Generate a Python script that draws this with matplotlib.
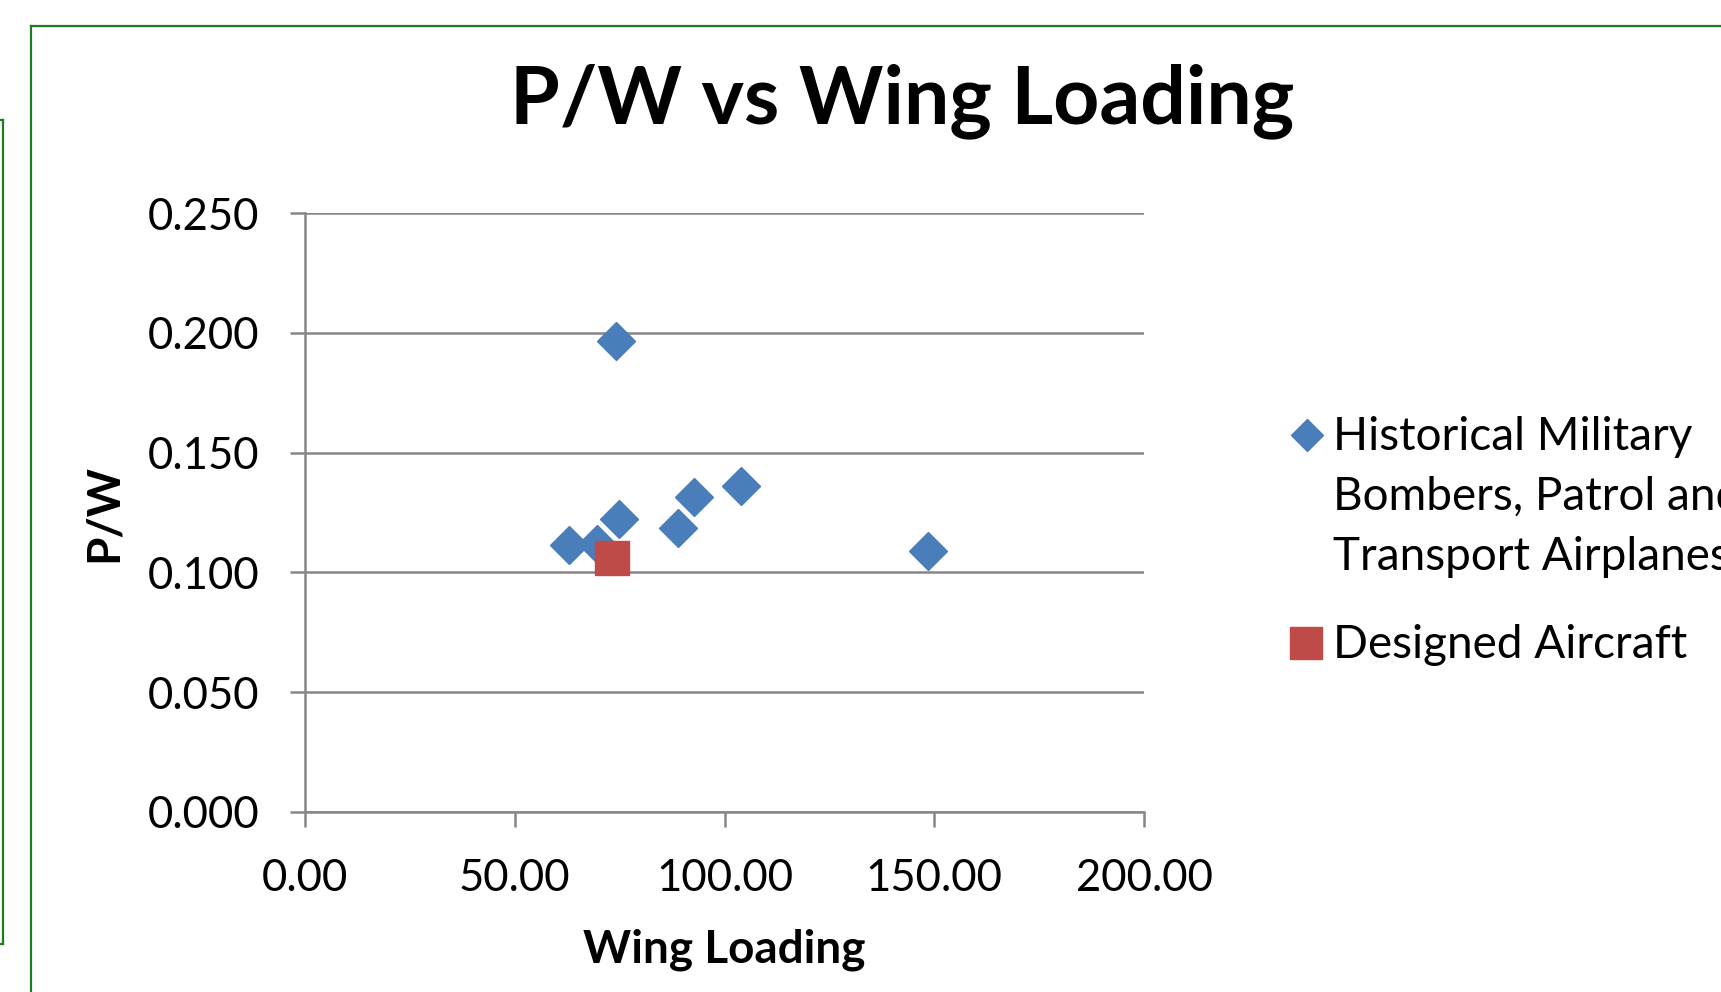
import numpy as np
import matplotlib
matplotlib.use("Agg")
import matplotlib.pyplot as plt
from matplotlib.lines import Line2D

plt.rcParams['font.family'] = ['Lato', 'DejaVu Sans']

# data
hist_wl = [74.1, 62.9, 69.7, 74.8, 89.0, 92.8, 103.9, 148.4]
hist_pw = [0.1966, 0.1113, 0.1120, 0.1221, 0.1184, 0.1315, 0.1361, 0.1091]
design_wl = [73.3]
design_pw = [0.1060]

hist_lines = ["Historical Military", "Bombers, Patrol and", "Transport Airplanes"]
design_lines = ["Designed Aircraft"]

blue = '#4A7EBB'
red = '#BE4B48'
gray = '#868686'
green = '#1E7B1E'

W, H = 1721, 992
fig = plt.figure(figsize=(W / 100, H / 100), dpi=100)
ax = fig.add_axes([305 / W, 1 - 812 / H, (1144 - 305) / W, (812 - 213) / H])

ax.plot(hist_wl, hist_pw, linestyle='none', marker='D', markersize=19,
        color=blue, markeredgecolor=blue, zorder=3)
ax.plot(design_wl, design_pw, linestyle='none', marker='s', markersize=25,
        color=red, markeredgecolor=red, zorder=4)

ax.set_xlim(0, 200)
ax.set_ylim(0, 0.25)
xt = [0, 50, 100, 150, 200]
yt = [0, 0.05, 0.10, 0.15, 0.20, 0.25]
ax.set_xticks(xt)
ax.set_yticks(yt)
ax.set_xticklabels(['%.2f' % v for v in xt])
ax.set_yticklabels(['%.3f' % v for v in yt])

ax.grid(axis='y', color=gray, linewidth=1.8)
ax.set_axisbelow(True)
for s in ['top', 'right']:
    ax.spines[s].set_visible(False)
for s in ['left', 'bottom']:
    ax.spines[s].set_color(gray)
    ax.spines[s].set_linewidth(1.8)
ax.tick_params(axis='both', direction='out', length=11, width=1.8, color=gray,
               labelsize=31.5, pad=22)

ax.set_xlabel('Wing Loading', fontsize=33, fontweight='bold', va='center')
ax.xaxis.set_label_coords(0.5, -0.230)
ax.set_ylabel('P/W', fontsize=33, fontweight='bold', va='center')
ax.yaxis.set_label_coords(-0.2396, 0.499)

fig.text(902 / W, 1 - 101 / H, 'P/W vs Wing Loading', fontsize=58,
         fontweight='bold', ha='center', va='center')

# legend, drawn by hand so the marker sits on the first line
tf = fig.transFigure
fig.add_artist(Line2D([1307 / W], [1 - 435 / H], marker='D', markersize=16.5,
                      color=blue, linestyle='none', transform=tf))
for i, line in enumerate(hist_lines):
    fig.text(1333 / W, 1 - (450 + 60 * i) / H, line, fontsize=33,
             ha='left', va='baseline')
fig.add_artist(Line2D([1306 / W], [1 - 643 / H], marker='s', markersize=23,
                      color=red, linestyle='none', transform=tf))
fig.text(1333 / W, 1 - 658 / H, design_lines[0], fontsize=33,
         ha='left', va='baseline')

# green frames
fig.add_artist(Line2D([31 / W, 31 / W], [0, 1 - 26 / H], color=green, lw=1.6, transform=tf))
fig.add_artist(Line2D([31 / W, 1], [1 - 26 / H, 1 - 26 / H], color=green, lw=1.6, transform=tf))
fig.add_artist(Line2D([3 / W, 3 / W], [1 - 120 / H, 1 - 944 / H], color=green, lw=1.6, transform=tf))
fig.add_artist(Line2D([0, 3 / W], [1 - 120 / H, 1 - 120 / H], color=green, lw=1.6, transform=tf))
fig.add_artist(Line2D([0, 3 / W], [1 - 944 / H, 1 - 944 / H], color=green, lw=1.6, transform=tf))

fig.savefig('out.png', dpi=100)
